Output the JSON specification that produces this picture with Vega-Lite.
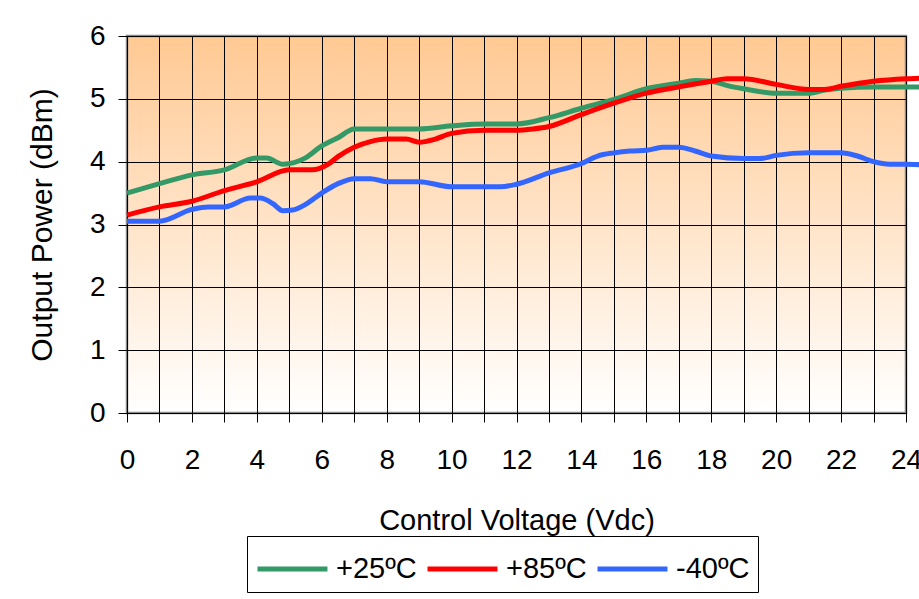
{
  "$schema": "https://vega.github.io/schema/vega-lite/v6.json",
  "width": 779,
  "height": 377,
  "autosize": {"type": "none"},
  "padding": {"left": 127, "top": 36, "right": 13, "bottom": 186},
  "background": "white",
  "config": {
    "font": "Liberation Sans",
    "view": {
      "stroke": "#888888",
      "strokeWidth": 2.5,
      "fill": {"gradient": "linear", "x1": 0, "y1": 0, "x2": 0, "y2": 1, "stops": [{"offset": 0, "color": "#FFC993"}, {"offset": 1, "color": "#FFFFFF"}]}
    },
    "axis": {
      "gridColor": "#000000",
      "gridOpacity": 1,
      "gridWidth": 1,
      "tickColor": "#000000",
      "tickSize": 9,
      "domain": false,
      "labelColor": "#000000",
      "titleColor": "#000000",
      "labelFont": "Liberation Sans",
      "titleFont": "Liberation Sans",
      "titleFontWeight": "normal"
    }
  },
  "data": {"values": [
    {"v": 0, "p": 3.5, "t": "+25ºC"}, {"v": 1, "p": 3.65, "t": "+25ºC"}, {"v": 2, "p": 3.79, "t": "+25ºC"}, {"v": 3, "p": 3.87, "t": "+25ºC"}, {"v": 4, "p": 4.06, "t": "+25ºC"}, {"v": 4.3, "p": 4.06, "t": "+25ºC"}, {"v": 4.8, "p": 3.96, "t": "+25ºC"}, {"v": 5.5, "p": 4.06, "t": "+25ºC"}, {"v": 6, "p": 4.25, "t": "+25ºC"}, {"v": 6.5, "p": 4.38, "t": "+25ºC"}, {"v": 7, "p": 4.52, "t": "+25ºC"}, {"v": 8, "p": 4.52, "t": "+25ºC"}, {"v": 9, "p": 4.52, "t": "+25ºC"}, {"v": 10, "p": 4.57, "t": "+25ºC"}, {"v": 11, "p": 4.6, "t": "+25ºC"}, {"v": 12, "p": 4.6, "t": "+25ºC"}, {"v": 13, "p": 4.7, "t": "+25ºC"}, {"v": 14, "p": 4.85, "t": "+25ºC"}, {"v": 15, "p": 4.99, "t": "+25ºC"}, {"v": 16, "p": 5.16, "t": "+25ºC"}, {"v": 17, "p": 5.25, "t": "+25ºC"}, {"v": 17.5, "p": 5.29, "t": "+25ºC"}, {"v": 18, "p": 5.28, "t": "+25ºC"}, {"v": 18.5, "p": 5.21, "t": "+25ºC"}, {"v": 19, "p": 5.16, "t": "+25ºC"}, {"v": 20, "p": 5.09, "t": "+25ºC"}, {"v": 21, "p": 5.09, "t": "+25ºC"}, {"v": 21.5, "p": 5.14, "t": "+25ºC"}, {"v": 22, "p": 5.17, "t": "+25ºC"}, {"v": 23, "p": 5.19, "t": "+25ºC"}, {"v": 24, "p": 5.19, "t": "+25ºC"}, {"v": 24.5, "p": 5.19, "t": "+25ºC"},
    {"v": 0, "p": 3.15, "t": "+85ºC"}, {"v": 1, "p": 3.28, "t": "+85ºC"}, {"v": 2, "p": 3.37, "t": "+85ºC"}, {"v": 3, "p": 3.54, "t": "+85ºC"}, {"v": 4, "p": 3.68, "t": "+85ºC"}, {"v": 5, "p": 3.87, "t": "+85ºC"}, {"v": 5.7, "p": 3.87, "t": "+85ºC"}, {"v": 6.2, "p": 3.96, "t": "+85ºC"}, {"v": 6.5, "p": 4.08, "t": "+85ºC"}, {"v": 7, "p": 4.23, "t": "+85ºC"}, {"v": 7.5, "p": 4.32, "t": "+85ºC"}, {"v": 8, "p": 4.36, "t": "+85ºC"}, {"v": 8.6, "p": 4.36, "t": "+85ºC"}, {"v": 9, "p": 4.31, "t": "+85ºC"}, {"v": 9.5, "p": 4.36, "t": "+85ºC"}, {"v": 10, "p": 4.45, "t": "+85ºC"}, {"v": 11, "p": 4.5, "t": "+85ºC"}, {"v": 12, "p": 4.5, "t": "+85ºC"}, {"v": 12.5, "p": 4.52, "t": "+85ºC"}, {"v": 13, "p": 4.56, "t": "+85ºC"}, {"v": 14, "p": 4.75, "t": "+85ºC"}, {"v": 15, "p": 4.93, "t": "+85ºC"}, {"v": 16, "p": 5.09, "t": "+85ºC"}, {"v": 17, "p": 5.19, "t": "+85ºC"}, {"v": 18, "p": 5.28, "t": "+85ºC"}, {"v": 18.5, "p": 5.32, "t": "+85ºC"}, {"v": 19, "p": 5.32, "t": "+85ºC"}, {"v": 20, "p": 5.23, "t": "+85ºC"}, {"v": 21, "p": 5.15, "t": "+85ºC"}, {"v": 21.5, "p": 5.15, "t": "+85ºC"}, {"v": 22, "p": 5.2, "t": "+85ºC"}, {"v": 23, "p": 5.28, "t": "+85ºC"}, {"v": 24, "p": 5.32, "t": "+85ºC"}, {"v": 24.5, "p": 5.33, "t": "+85ºC"},
    {"v": 0, "p": 3.05, "t": "-40ºC"}, {"v": 1, "p": 3.05, "t": "-40ºC"}, {"v": 2, "p": 3.24, "t": "-40ºC"}, {"v": 2.5, "p": 3.28, "t": "-40ºC"}, {"v": 3, "p": 3.28, "t": "-40ºC"}, {"v": 3.8, "p": 3.42, "t": "-40ºC"}, {"v": 4.1, "p": 3.42, "t": "-40ºC"}, {"v": 4.5, "p": 3.33, "t": "-40ºC"}, {"v": 4.8, "p": 3.22, "t": "-40ºC"}, {"v": 5.1, "p": 3.23, "t": "-40ºC"}, {"v": 5.5, "p": 3.32, "t": "-40ºC"}, {"v": 6, "p": 3.5, "t": "-40ºC"}, {"v": 6.5, "p": 3.65, "t": "-40ºC"}, {"v": 7, "p": 3.73, "t": "-40ºC"}, {"v": 7.5, "p": 3.73, "t": "-40ºC"}, {"v": 8, "p": 3.68, "t": "-40ºC"}, {"v": 9, "p": 3.68, "t": "-40ºC"}, {"v": 10, "p": 3.6, "t": "-40ºC"}, {"v": 11, "p": 3.6, "t": "-40ºC"}, {"v": 11.5, "p": 3.6, "t": "-40ºC"}, {"v": 12, "p": 3.64, "t": "-40ºC"}, {"v": 13, "p": 3.82, "t": "-40ºC"}, {"v": 14, "p": 3.97, "t": "-40ºC"}, {"v": 14.5, "p": 4.09, "t": "-40ºC"}, {"v": 15, "p": 4.14, "t": "-40ºC"}, {"v": 15.5, "p": 4.17, "t": "-40ºC"}, {"v": 16, "p": 4.18, "t": "-40ºC"}, {"v": 16.5, "p": 4.23, "t": "-40ºC"}, {"v": 17, "p": 4.23, "t": "-40ºC"}, {"v": 17.5, "p": 4.17, "t": "-40ºC"}, {"v": 18, "p": 4.09, "t": "-40ºC"}, {"v": 19, "p": 4.05, "t": "-40ºC"}, {"v": 19.5, "p": 4.05, "t": "-40ºC"}, {"v": 20, "p": 4.1, "t": "-40ºC"}, {"v": 21, "p": 4.14, "t": "-40ºC"}, {"v": 22, "p": 4.14, "t": "-40ºC"}, {"v": 22.5, "p": 4.09, "t": "-40ºC"}, {"v": 23, "p": 4.0, "t": "-40ºC"}, {"v": 23.5, "p": 3.96, "t": "-40ºC"}, {"v": 24, "p": 3.96, "t": "-40ºC"}, {"v": 24.5, "p": 3.95, "t": "-40ºC"}
  ]},
  "mark": {"type": "line", "strokeWidth": 5, "interpolate": "monotone", "clip": false},
  "encoding": {
    "x": {
      "field": "v", "type": "quantitative",
      "scale": {"domain": [0, 24], "nice": false, "zero": false},
      "axis": {
        "title": "Control Voltage (Vdc)",
        "values": [0,1,2,3,4,5,6,7,8,9,10,11,12,13,14,15,16,17,18,19,20,21,22,23,24],
        "labelExpr": "datum.value % 2 === 0 ? datum.label : ''",
        "labelFontSize": 28,
        "labelPadding": 24,
        "labelFlush": false,
        "labelOverlap": false,
        "titleFontSize": 29,
        "titlePadding": 32
      }
    },
    "y": {
      "field": "p", "type": "quantitative",
      "scale": {"domain": [0, 6], "nice": false},
      "axis": {
        "title": "Output Power (dBm)",
        "values": [0,1,2,3,4,5,6],
        "labelFontSize": 28,
        "labelPadding": 13,
        "labelFlush": false,
        "titleFontSize": 30,
        "titlePadding": 32
      }
    },
    "color": {
      "field": "t", "type": "nominal",
      "scale": {"domain": ["+25ºC", "+85ºC", "-40ºC"], "range": ["#339966", "#FF0000", "#3366FF"]},
      "legend": {
        "title": null,
        "orient": "none",
        "legendX": 120,
        "legendY": 500,
        "direction": "horizontal",
        "symbolType": "M-1,0H2.11",
        "symbolSize": 2025,
        "symbolStrokeWidth": 5,
        "labelFontSize": 29,
        "labelFont": "Liberation Sans",
        "labelColor": "#000000",
        "labelOffset": 31,
        "columnPadding": 0,
        "padding": 8,
        "strokeColor": "#000000",
        "fillColor": "#FFFFFF",
        "labelLimit": 200
      }
    }
  }
}
